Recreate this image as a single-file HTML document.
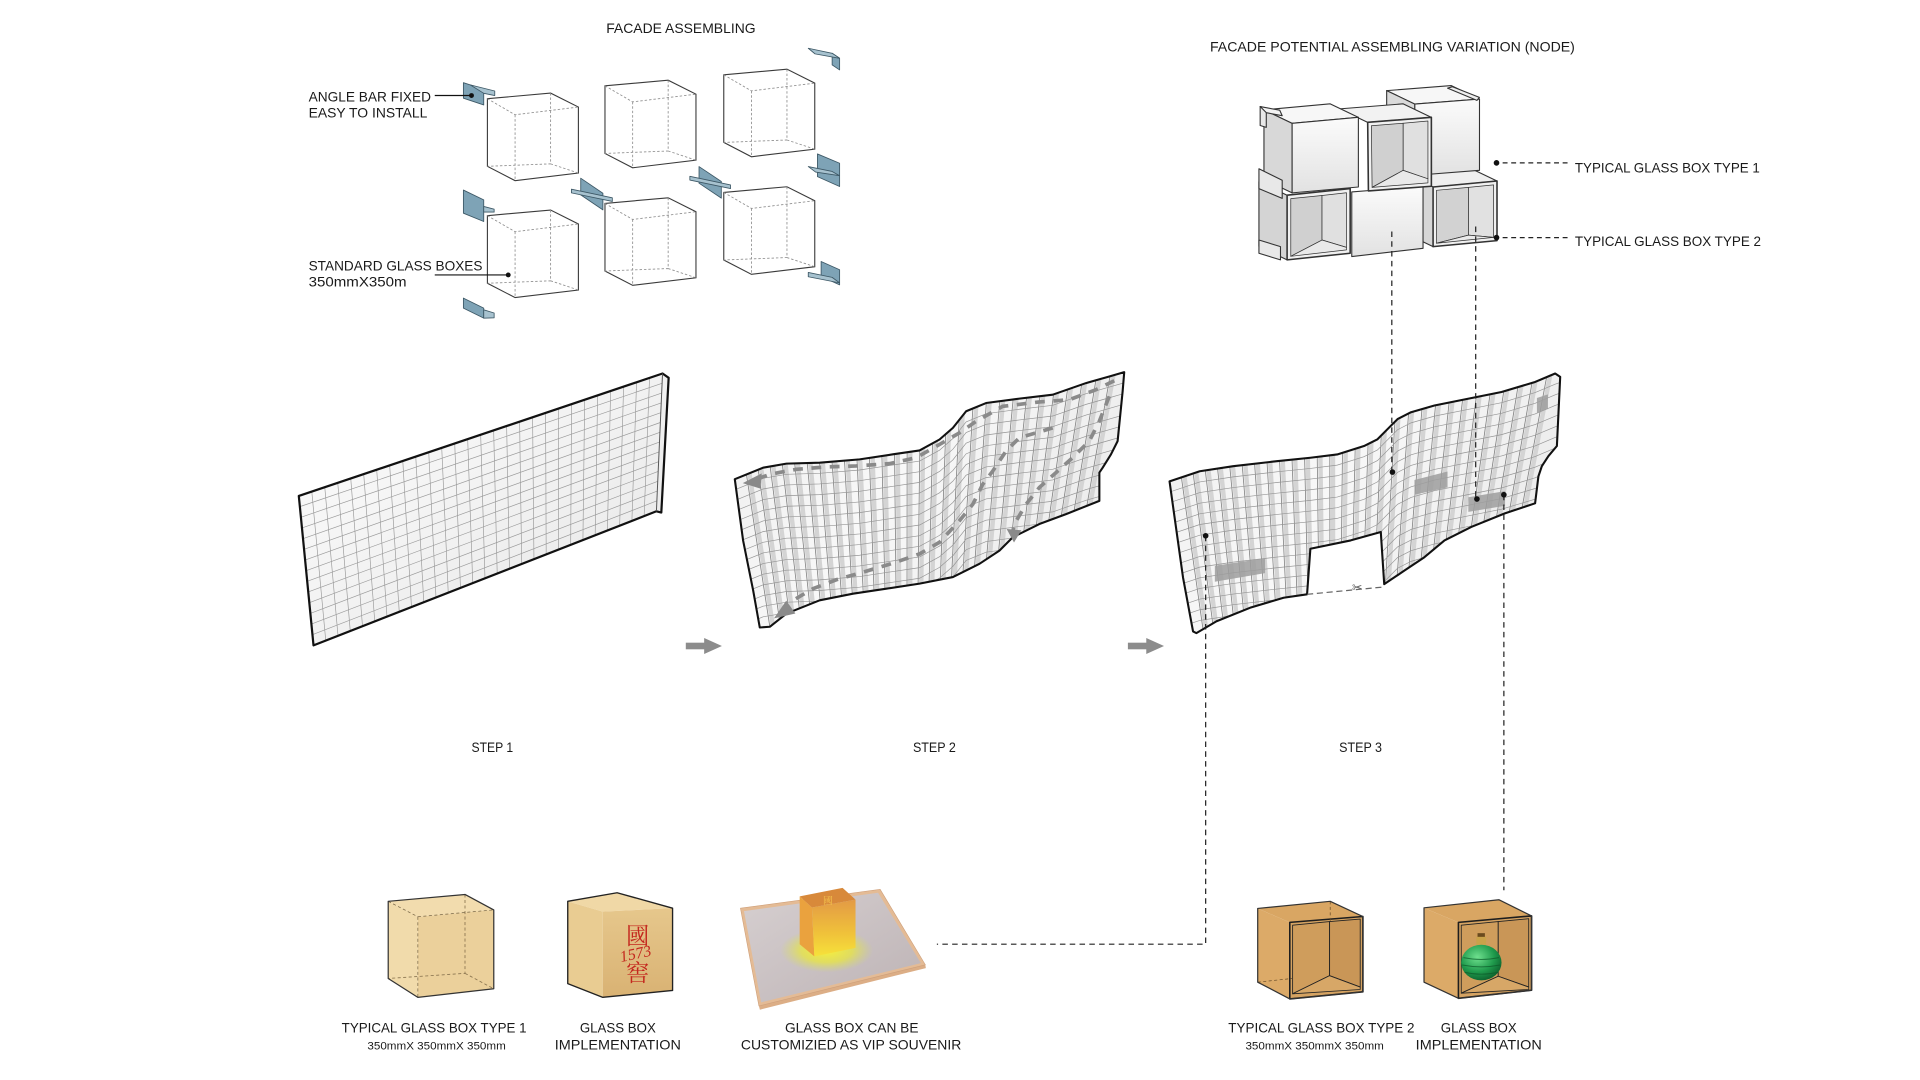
<!DOCTYPE html>
<html><head><meta charset="utf-8"><style>
html,body{margin:0;padding:0;background:#fff;}
svg{display:block;}
text{font-family:"Liberation Sans","Noto Sans CJK SC",sans-serif;fill:#1a1a1a;}
</style></head><body>
<svg width="1920" height="1080" viewBox="0 0 1567.8 881.9" preserveAspectRatio="none" xmlns="http://www.w3.org/2000/svg">
<defs>
<linearGradient id="w1" x1="0" y1="0" x2="1" y2="1"><stop offset="0" stop-color="#fdfdfd"/><stop offset="1" stop-color="#e6e6e6"/></linearGradient>
<linearGradient id="w2" x1="0" y1="0" x2="1" y2="0.4"><stop offset="0" stop-color="#efefef"/><stop offset="0.5" stop-color="#f8f8f8"/><stop offset="1" stop-color="#ececec"/></linearGradient>
<linearGradient id="nf" x1="0" y1="0" x2="0" y2="1"><stop offset="0" stop-color="#fbfbfb"/><stop offset="1" stop-color="#e2e2e2"/></linearGradient>
<linearGradient id="tanF" x1="0" y1="0" x2="0" y2="1"><stop offset="0" stop-color="#e6c78c"/><stop offset="1" stop-color="#d9b273"/></linearGradient>
<linearGradient id="orF" x1="0" y1="0" x2="0" y2="1"><stop offset="0" stop-color="#e39a45"/><stop offset="0.6" stop-color="#f0c23a"/><stop offset="1" stop-color="#f6e23a"/></linearGradient>
<linearGradient id="tray" x1="0" y1="0" x2="1" y2="1"><stop offset="0" stop-color="#d6cfd0"/><stop offset="1" stop-color="#bdb3b5"/></linearGradient>
<radialGradient id="glow" cx="0.5" cy="0.5" r="0.5"><stop offset="0" stop-color="#f8f03a" stop-opacity="1"/><stop offset="0.55" stop-color="#e8e640" stop-opacity="0.75"/><stop offset="1" stop-color="#d8e060" stop-opacity="0"/></radialGradient>
<radialGradient id="bottle" cx="0.4" cy="0.35" r="0.7"><stop offset="0" stop-color="#6fe08e"/><stop offset="0.6" stop-color="#1f9a4c"/><stop offset="1" stop-color="#0c5e2c"/></radialGradient>
<clipPath id="c1"><polygon points="244,405 541,305 536,417.5 256,527"/></clipPath>
<clipPath id="c2"><polygon points="600,391.3 623.1,381.9 642.2,378.6 669.3,377.8 701.9,375.1 729.1,371 750.9,367.8 767.2,358.9 778.1,349.4 788.9,335.8 805.2,329.1 832.4,325.5 859.6,322.3 886.8,312.8 905.8,307.4 918,303.9 916.7,319.6 912.6,360.2 907.2,371 900.4,381.9 897.7,385.9 897.7,409 870.5,419.8 848.7,427.9 827,438.7 816.1,449.6 799.8,460.4 778.1,471.2 750.9,476.6 723.7,480.7 696.5,484.8 669.3,490.2 642.2,501 628.6,511.8 620.4,512.4 615,482.1 606.8,441.4"/></clipPath>
<clipPath id="c3"><polygon points="955,393.1 979.7,384.8 1007,380.7 1042.6,376.6 1070,373.8 1091.9,371.1 1113.8,364.2 1124.8,358.7 1135.7,347.7 1141.2,342.2 1152.2,336.6 1171.3,331.1 1198.7,325.6 1226.1,320.1 1253.5,311.9 1269.9,305 1274,307.7 1271.3,364.2 1264.4,372.4 1259,380.7 1256.2,389 1253.5,411 1228.8,419.2 1201.4,430.3 1179.5,441.3 1163.1,455 1146.7,466 1130.3,477 1127.5,434.4 1102.9,441.3 1070,448.1 1067.3,485.3 1048.1,488.1 1020.7,496.3 993.4,507.3 976.9,517 974.2,515.6 966,471.5"/></clipPath>
<path id="t2" d="M585,397 L600,391.3 623.1,381.9 642.2,378.6 669.3,377.8 701.9,375.1 729.1,371 750.9,367.8 767.2,358.9 778.1,349.4 788.9,335.8 805.2,329.1 832.4,325.5 859.6,322.3 886.8,312.8 905.8,307.4 918,303.9 935,299" fill="none"/>
<path id="t3" d="M940,398 L955,393.1 979.7,384.8 1007,380.7 1042.6,376.6 1070,373.8 1091.9,371.1 1113.8,364.2 1124.8,358.7 1135.7,347.7 1141.2,342.2 1152.2,336.6 1171.3,331.1 1198.7,325.6 1226.1,320.1 1253.5,311.9 1269.9,305 1290,298" fill="none"/>
<g id="cube">
<polygon points="0,4.6 51.6,0 74.3,11.4 74.3,65.3 22.6,71.5 0,59.8" fill="#fff" stroke="#3a3a3a" stroke-width="0.9"/>
<path d="M0,4.6 L22.6,17.7 L74.3,11.4 M22.6,17.7 L22.6,71.5 M51.6,0 L51.6,57.8 L0,59.8 M51.6,57.8 L74.3,65.3" fill="none" stroke="#8f8f8f" stroke-width="0.7" stroke-dasharray="2 1.6"/>
</g>
</defs>

<!-- ============ TOP LEFT: FACADE ASSEMBLING ============ -->
<text x="495" y="27" font-size="11.5" textLength="122" lengthAdjust="spacingAndGlyphs">FACADE ASSEMBLING</text>

<use href="#cube" x="398" y="76"/>
<use href="#cube" x="494" y="65.5"/>
<use href="#cube" x="591" y="56.5"/>
<use href="#cube" x="398" y="171.5"/>
<use href="#cube" x="494" y="161.5"/>
<use href="#cube" x="591" y="152.5"/>

<g stroke="#3d5866" stroke-width="0.7" stroke-linejoin="round">
<polygon points="378.4,67.5 395,72.9 395,85.7 378.4,80.2" fill="#7ea3b6"/>
<polygon points="384,69.3 404,74.3 404,78 395,76.2" fill="#a7c2cf"/>
<polygon points="378.4,155.2 395,163.2 395,180.9 378.4,174.1" fill="#7ea3b6"/>
<polygon points="395,168.6 403.5,170.8 403.5,173.2 395,173.2" fill="#a7c2cf"/>
<polygon points="378.4,243.4 395,251.6 395,259.8 378.4,251.6" fill="#7ea3b6"/>
<polygon points="395,253 403.5,255.6 403.5,259.5 395,259.8" fill="#a7c2cf"/>
<polygon points="474.2,145.5 492.3,157.8 492.3,171.4 474.2,159.1" fill="#7ea3b6"/>
<polygon points="466.6,154.5 500,161.5 500,164.5 466.6,157.5" fill="#a7c2cf"/>
<polygon points="570.8,136 589,148.2 589,161.8 570.8,149.6" fill="#7ea3b6"/>
<polygon points="563.3,144 596.5,151 596.5,154 563.3,147" fill="#a7c2cf"/>
<polygon points="679.5,43.5 685.6,47.6 685.6,57.1 679.5,53" fill="#7ea3b6"/>
<polygon points="660,39.4 679.5,43.5 685.6,47.6 665.5,44" fill="#a7c2cf"/>
<polygon points="667.5,125.7 685.6,133.3 685.6,152.3 667.5,144.2" fill="#7ea3b6"/>
<polygon points="660,136 679.5,140 685.6,143.5 666,140.5" fill="#a7c2cf"/>
<polygon points="670.5,213.5 685.6,220.3 685.6,232.6 670.5,225.8" fill="#7ea3b6"/>
<polygon points="660,222.5 679.5,226.5 685.6,231 660,226" fill="#a7c2cf"/>
</g>

<text x="252" y="83" font-size="11.5" textLength="100" lengthAdjust="spacingAndGlyphs">ANGLE BAR FIXED</text>
<text x="252" y="96" font-size="11.5" textLength="97" lengthAdjust="spacingAndGlyphs">EASY TO INSTALL</text>
<line x1="355" y1="78" x2="385" y2="78" stroke="#111" stroke-width="1"/>
<circle cx="385" cy="78" r="2" fill="#111"/>
<text x="252" y="221" font-size="11.5" textLength="142" lengthAdjust="spacingAndGlyphs">STANDARD GLASS BOXES</text>
<text x="252" y="234" font-size="11.5" textLength="80" lengthAdjust="spacingAndGlyphs">350mmX350m</text>
<line x1="355" y1="224.5" x2="415" y2="224.5" stroke="#111" stroke-width="1"/>
<circle cx="415" cy="224.5" r="2" fill="#111"/>

<!-- ============ TOP RIGHT: NODE ============ -->
<text x="988" y="42" font-size="11.5" textLength="298" lengthAdjust="spacingAndGlyphs">FACADE POTENTIAL ASSEMBLING VARIATION (NODE)</text>

<g stroke="#333" stroke-width="0.9" stroke-linejoin="round">
<polygon points="1170.2,152.7 1222.4,147.8 1199.4,136.8 1147.2,141.7" fill="#efefef"/>
<polygon points="1170.2,152.7 1147.2,141.7 1147.2,190.4 1170.2,201.4" fill="#d6d6d6"/>
<polygon points="1170.2,152.7 1222.4,147.8 1222.4,196.5 1170.2,201.4" fill="#f0f0f0" stroke-width="1.3"/>
<polygon points="1173,155.4 1199.1,153 1199.1,192 1173,198.6" fill="#d2d2d2" stroke-width="0.6"/>
<polygon points="1199.1,153 1219.6,151 1219.6,193.8 1199.1,192" fill="#e1e1e1" stroke-width="0.6"/>
<polygon points="1173,198.6 1199.1,192 1219.6,193.8" fill="#eaeaea" stroke-width="0.6"/>
<polygon points="1103.8,156.7 1162,152.1 1162,202.8 1103.8,209.5" fill="url(#nf)"/>
<polygon points="1051,159.4 1028,148.4 1028,201.2 1051,212.2" fill="#d4d4d4"/>
<polygon points="1051,159.4 1102.5,154 1102.5,206.8 1051,212.2" fill="#f0f0f0" stroke-width="1.3"/>
<polygon points="1054,162.2 1079.5,159.6 1079.5,196 1054,209.3" fill="#d0d0d0" stroke-width="0.6"/>
<polygon points="1079.5,159.6 1099.5,157.4 1099.5,202 1079.5,196" fill="#e0e0e0" stroke-width="0.6"/>
<polygon points="1054,209.3 1079.5,196 1099.5,202 1099.5,204" fill="#e9e9e9" stroke-width="0.6"/>
<polygon points="1155.3,85 1208.1,80.9 1185.1,69.9 1132.3,74" fill="#f7f7f7"/>
<polygon points="1155.3,85 1132.3,74 1132.3,132.2 1155.3,143.2" fill="#dadada"/>
<polygon points="1155.3,85 1208.1,80.9 1208.1,139.1 1155.3,143.2" fill="url(#nf)"/>
<polygon points="1116.8,99.9 1168.8,95.8 1145.8,84.8 1093.8,88.9" fill="#f2f2f2"/>
<polygon points="1116.8,99.9 1168.8,95.8 1168.8,152.1 1117.4,155.9" fill="#f0f0f0" stroke-width="1.3"/>
<polygon points="1119.8,102.7 1145.8,100.6 1145.8,139.1 1120.4,153" fill="#d0d0d0" stroke-width="0.6"/>
<polygon points="1145.8,100.6 1166,98.8 1166,146 1145.8,139.1" fill="#e0e0e0" stroke-width="0.6"/>
<polygon points="1120.4,153 1145.8,139.1 1166,146 1166,149.3" fill="#e9e9e9" stroke-width="0.6"/>
<polygon points="1055.1,100.7 1109.2,95.8 1086.2,84.8 1032.1,89.7" fill="#f7f7f7"/>
<polygon points="1055.1,100.7 1032.1,89.7 1032.1,146.5 1055.1,157.5" fill="#d8d8d8"/>
<polygon points="1055.1,100.7 1109.2,95.8 1109.2,152.7 1055.1,157.5" fill="url(#nf)"/>
<polygon points="1029,87 1034,88.5 1034,104 1029,102.5" fill="#e8e8e8"/>
<polygon points="1029,87 1045,90 1047,94.5 1034,92" fill="#f2f2f2"/>
<polygon points="1028,137.8 1047,147.2 1047,162 1028,154" fill="#e8e8e8"/>
<polygon points="1028,196 1045.6,201.4 1045.6,212.2 1028,206.8" fill="#e8e8e8"/>
<polygon points="1182,72 1186,70.8 1208,79.5 1206,82" fill="#eee"/>
</g>

<circle cx="1222" cy="133" r="2.3" fill="#111"/>
<line x1="1227" y1="133" x2="1280" y2="133" stroke="#222" stroke-width="1" stroke-dasharray="4 3"/>
<text x="1286" y="141" font-size="11.5" textLength="151" lengthAdjust="spacingAndGlyphs">TYPICAL GLASS BOX TYPE 1</text>
<circle cx="1222" cy="194" r="2.3" fill="#111"/>
<line x1="1227" y1="194" x2="1280" y2="194" stroke="#222" stroke-width="1" stroke-dasharray="4 3"/>
<text x="1286" y="201" font-size="11.5" textLength="152" lengthAdjust="spacingAndGlyphs">TYPICAL GLASS BOX TYPE 2</text>

<!-- ============ STEP 1 WALL ============ -->
<polygon points="244,405 541,305 546,308.5 540,418.5 536,417.5 256,527" fill="url(#w1)"/>
<g clip-path="url(#c1)" stroke="#9a9a9a" stroke-width="0.55" fill="none">
<path d="M254.6,401.4L266,523.1M265.2,397.9L276,519.1M275.8,394.3L286,515.2M286.4,390.7L296,511.3M297,387.1L306,507.4M307.6,383.6L316,503.4M318.2,380L326,499.5M328.9,376.4L336,495.6M339.5,372.9L346,491.6M350.1,369.3L356,487.7M360.7,365.7L366,483.8M371.3,362.1L376,479.9M381.9,358.6L386,475.9M392.5,355L396,472M403.1,351.4L406,468.1M413.7,347.9L416,464.1M424.3,344.3L426,460.2M434.9,340.7L436,456.3M445.5,337.1L446,452.3M456.1,333.6L456,448.4M466.7,330L466,444.5M477.4,326.4L476,440.6M488,322.9L486,436.6M498.6,319.3L496,432.7M509.2,315.7L506,428.8M519.8,312.1L516,424.8M530.4,308.6L526,420.9"/>
<path d="M244.9,413.7L540.6,313M245.7,422.4L540.3,321M246.6,431.1L539.9,329M247.4,439.9L539.6,337M248.3,448.6L539.2,345M249.1,457.3L538.9,353M250,466L538.5,361M250.9,474.7L538.1,369M251.7,483.4L537.8,377M252.6,492.1L537.4,385M253.4,500.9L537.1,393M254.3,509.6L536.7,401M255.1,518.3L536.4,409"/>
</g>
<polygon points="244,405 541,305 546,308.5 540,418.5 536,417.5 256,527" fill="none" stroke="#111" stroke-width="1.8" stroke-linejoin="round"/>
<line x1="541" y1="305" x2="536" y2="417.5" stroke="#555" stroke-width="0.8"/>

<!-- ============ STEP 2 WALL ============ -->
<polygon points="600,391.3 623.1,381.9 642.2,378.6 669.3,377.8 701.9,375.1 729.1,371 750.9,367.8 767.2,358.9 778.1,349.4 788.9,335.8 805.2,329.1 832.4,325.5 859.6,322.3 886.8,312.8 905.8,307.4 918,303.9 916.7,319.6 912.6,360.2 907.2,371 900.4,381.9 897.7,385.9 897.7,409 870.5,419.8 848.7,427.9 827,438.7 816.1,449.6 799.8,460.4 778.1,471.2 750.9,476.6 723.7,480.7 696.5,484.8 669.3,490.2 642.2,501 628.6,511.8 620.4,512.4 615,482.1 606.8,441.4" fill="url(#w2)"/>
<g clip-path="url(#c2)" fill="none">
<path transform="translate(2.6,0)" stroke="#d4d4d4" stroke-width="3.6" d="M596.1,300L629.1,515M607.3,300L637.7,515M618.4,300L646.2,515M629.5,300L654.8,515M640.6,300L663.4,515M651.8,300L672,515M662.9,300L680.5,515M674,300L689.1,515M685.1,300L697.7,515M696.3,300L706.3,515M707.4,300L714.8,515M718.5,300L723.4,515M729.7,300L732,515M740.8,300L740.6,515M751.9,300L749.2,515M763,300L757.7,515M774.2,300L766.3,515M785.3,300L774.9,515M796.4,300L783.5,515M807.5,300L792,515M818.7,300L800.6,515M829.8,300L809.2,515M840.9,300L817.8,515M852,300L826.3,515M863.2,300L834.9,515M874.3,300L843.5,515M885.4,300L852.1,515M896.6,300L860.7,515M907.7,300L869.2,515"/>
<path stroke="#808080" stroke-width="0.65" d="M596.1,300L629.1,515M607.3,300L637.7,515M618.4,300L646.2,515M629.5,300L654.8,515M640.6,300L663.4,515M651.8,300L672,515M662.9,300L680.5,515M674,300L689.1,515M685.1,300L697.7,515M696.3,300L706.3,515M707.4,300L714.8,515M718.5,300L723.4,515M729.7,300L732,515M740.8,300L740.6,515M751.9,300L749.2,515M763,300L757.7,515M774.2,300L766.3,515M785.3,300L774.9,515M796.4,300L783.5,515M807.5,300L792,515M818.7,300L800.6,515M829.8,300L809.2,515M840.9,300L817.8,515M852,300L826.3,515M863.2,300L834.9,515M874.3,300L843.5,515M885.4,300L852.1,515M896.6,300L860.7,515M907.7,300L869.2,515"/>
<g stroke="#959595" stroke-width="0.55">
<use href="#t2" transform="translate(0,8.7)"/><use href="#t2" transform="translate(0,17.4)"/><use href="#t2" transform="translate(0,26.1)"/><use href="#t2" transform="translate(0,34.8)"/><use href="#t2" transform="translate(0,43.5)"/><use href="#t2" transform="translate(0,52.2)"/><use href="#t2" transform="translate(0,60.9)"/><use href="#t2" transform="translate(0,69.6)"/><use href="#t2" transform="translate(0,78.3)"/><use href="#t2" transform="translate(0,87)"/><use href="#t2" transform="translate(0,95.7)"/><use href="#t2" transform="translate(0,104.4)"/><use href="#t2" transform="translate(0,113.1)"/><use href="#t2" transform="translate(0,121.8)"/>
</g>
</g>
<polygon points="600,391.3 623.1,381.9 642.2,378.6 669.3,377.8 701.9,375.1 729.1,371 750.9,367.8 767.2,358.9 778.1,349.4 788.9,335.8 805.2,329.1 832.4,325.5 859.6,322.3 886.8,312.8 905.8,307.4 918,303.9 916.7,319.6 912.6,360.2 907.2,371 900.4,381.9 897.7,385.9 897.7,409 870.5,419.8 848.7,427.9 827,438.7 816.1,449.6 799.8,460.4 778.1,471.2 750.9,476.6 723.7,480.7 696.5,484.8 669.3,490.2 642.2,501 628.6,511.8 620.4,512.4 615,482.1 606.8,441.4" fill="none" stroke="#111" stroke-width="1.7" stroke-linejoin="round"/>
<g fill="none" stroke="#8a8a8a" stroke-width="3" stroke-dasharray="8 7">
<polyline points="909.9,310.9 894.9,318.2 873.2,326.4 848.7,328.2 818.8,331.8 797.1,344 783.5,353.4 767.2,362.9 748.2,373.7 726.4,378.6 699.2,380.5 674.8,381.3 650.3,383.2 628.6,387.3 620,390.5"/>
<polyline points="905.8,323.6 897.7,343.9 889.5,360.2 875.9,373.7 862.3,385.9 848.7,398.1 837.9,411.7 828.3,427.9 827,434"/>
<polyline points="859.6,349.4 832.4,357.5 821.5,368.3 810.7,384.6 802.5,395.4 794.4,411.7 783.5,425.2 767.2,442.8 750.9,452.3 729.1,459.9 704.7,467.2 682.9,473.4 663.9,480.7 647.6,490.2"/>
</g>
<g fill="#8a8a8a">
<polygon points="606.5,394.5 622,386.5 621,399"/>
<polygon points="828,443 822,432 834,433"/>
<polygon points="632,505 642,490.5 649.5,501"/>
</g>

<!-- ============ STEP 3 WALL ============ -->
<polygon points="955,393.1 979.7,384.8 1007,380.7 1042.6,376.6 1070,373.8 1091.9,371.1 1113.8,364.2 1124.8,358.7 1135.7,347.7 1141.2,342.2 1152.2,336.6 1171.3,331.1 1198.7,325.6 1226.1,320.1 1253.5,311.9 1269.9,305 1274,307.7 1271.3,364.2 1264.4,372.4 1259,380.7 1256.2,389 1253.5,411 1228.8,419.2 1201.4,430.3 1179.5,441.3 1163.1,455 1146.7,466 1130.3,477 1127.5,434.4 1102.9,441.3 1070,448.1 1067.3,485.3 1048.1,488.1 1020.7,496.3 993.4,507.3 976.9,517 974.2,515.6 966,471.5" fill="url(#w2)"/>
<g clip-path="url(#c3)" fill="none">
<path transform="translate(2.6,0)" stroke="#d4d4d4" stroke-width="3.6" d="M951.9,300L983.2,520M963,300L991.7,520M974.2,300L1000.3,520M985.4,300L1008.9,520M996.5,300L1017.4,520M1007.7,300L1026,520M1018.8,300L1034.6,520M1030,300L1043.1,520M1041.2,300L1051.7,520M1052.3,300L1060.3,520M1063.5,300L1068.8,520M1074.7,300L1077.4,520M1085.8,300L1086,520M1097,300L1094.5,520M1108.1,300L1103.1,520M1119.3,300L1111.7,520M1130.5,300L1120.2,520M1141.6,300L1128.8,520M1152.8,300L1137.4,520M1163.9,300L1145.9,520M1175.1,300L1154.5,520M1186.3,300L1163.1,520M1197.4,300L1171.6,520M1208.6,300L1180.2,520M1219.8,300L1188.8,520M1230.9,300L1197.3,520M1242.1,300L1205.9,520M1253.2,300L1214.5,520M1264.4,300L1223,520"/>
<path stroke="#808080" stroke-width="0.65" d="M951.9,300L983.2,520M963,300L991.7,520M974.2,300L1000.3,520M985.4,300L1008.9,520M996.5,300L1017.4,520M1007.7,300L1026,520M1018.8,300L1034.6,520M1030,300L1043.1,520M1041.2,300L1051.7,520M1052.3,300L1060.3,520M1063.5,300L1068.8,520M1074.7,300L1077.4,520M1085.8,300L1086,520M1097,300L1094.5,520M1108.1,300L1103.1,520M1119.3,300L1111.7,520M1130.5,300L1120.2,520M1141.6,300L1128.8,520M1152.8,300L1137.4,520M1163.9,300L1145.9,520M1175.1,300L1154.5,520M1186.3,300L1163.1,520M1197.4,300L1171.6,520M1208.6,300L1180.2,520M1219.8,300L1188.8,520M1230.9,300L1197.3,520M1242.1,300L1205.9,520M1253.2,300L1214.5,520M1264.4,300L1223,520"/>
<g stroke="#959595" stroke-width="0.55">
<use href="#t3" transform="translate(0,8.7)"/><use href="#t3" transform="translate(0,17.4)"/><use href="#t3" transform="translate(0,26.1)"/><use href="#t3" transform="translate(0,34.8)"/><use href="#t3" transform="translate(0,43.5)"/><use href="#t3" transform="translate(0,52.2)"/><use href="#t3" transform="translate(0,60.9)"/><use href="#t3" transform="translate(0,69.6)"/><use href="#t3" transform="translate(0,78.3)"/><use href="#t3" transform="translate(0,87)"/><use href="#t3" transform="translate(0,95.7)"/><use href="#t3" transform="translate(0,104.4)"/><use href="#t3" transform="translate(0,113.1)"/><use href="#t3" transform="translate(0,121.8)"/>
</g>
<g fill="#9e9e9e" fill-opacity="0.85">
<polygon points="992,462 1033,456 1033,468 992,475"/>
<polygon points="1155,392 1182,385 1182,398 1155,404"/>
<polygon points="1199,406 1229,401 1229,413 1199,418"/>
<polygon points="1255,325 1264,322 1264,334 1255,337"/>
</g>
</g>
<polygon points="955,393.1 979.7,384.8 1007,380.7 1042.6,376.6 1070,373.8 1091.9,371.1 1113.8,364.2 1124.8,358.7 1135.7,347.7 1141.2,342.2 1152.2,336.6 1171.3,331.1 1198.7,325.6 1226.1,320.1 1253.5,311.9 1269.9,305 1274,307.7 1271.3,364.2 1264.4,372.4 1259,380.7 1256.2,389 1253.5,411 1228.8,419.2 1201.4,430.3 1179.5,441.3 1163.1,455 1146.7,466 1130.3,477 1127.5,434.4 1102.9,441.3 1070,448.1 1067.3,485.3 1048.1,488.1 1020.7,496.3 993.4,507.3 976.9,517 974.2,515.6 966,471.5" fill="none" stroke="#111" stroke-width="1.7" stroke-linejoin="round"/>
<line x1="1067.3" y1="485.3" x2="1128" y2="479.5" stroke="#666" stroke-width="1" stroke-dasharray="5 3"/>
<text x="1104" y="483" font-size="10" style="font-family:'DejaVu Sans',sans-serif;fill:#555">✂</text>

<!-- connectors -->
<g fill="none" stroke="#222" stroke-width="1" stroke-dasharray="4.5 3.5">
<line x1="1136.5" y1="189" x2="1136.5" y2="385"/>
<line x1="1205" y1="185" x2="1205" y2="407"/>
<line x1="1228" y1="404" x2="1228" y2="727"/>
<polyline points="984.5,437.5 984.5,771 765,771"/>
</g>
<circle cx="1137" cy="385.5" r="2.3" fill="#111"/>
<circle cx="1206" cy="407.5" r="2.3" fill="#111"/>
<circle cx="1228" cy="404" r="2.3" fill="#111"/>
<circle cx="984.5" cy="437.5" r="2.3" fill="#111"/>

<!-- step arrows -->
<g fill="#8c8c8c">
<rect x="560" y="524.8" width="16" height="5.4"/>
<polygon points="575,521 589.5,527.5 575,534"/>
<rect x="921" y="524.8" width="16" height="5.4"/>
<polygon points="936,521 950.5,527.5 936,534"/>
</g>

<text x="402" y="614" font-size="11.5" text-anchor="middle" textLength="34" lengthAdjust="spacingAndGlyphs">STEP 1</text>
<text x="763" y="614" font-size="11.5" text-anchor="middle" textLength="35" lengthAdjust="spacingAndGlyphs">STEP 2</text>
<text x="1111" y="614" font-size="11.5" text-anchor="middle" textLength="35" lengthAdjust="spacingAndGlyphs">STEP 3</text>

<!-- ============ BOTTOM ROW ============ -->
<g stroke-linejoin="round">
<polygon points="317,736 379.7,730.4 403.2,743 341.2,748.6" fill="#f2dcae"/>
<polygon points="317,736 341.2,748.6 341.2,814.4 317,799" fill="#f1dbab"/>
<polygon points="341.2,748.6 403.2,743 403.2,807.4 341.2,814.4" fill="#ebd09b"/>
<path d="M379.7,730.4 L379.7,794.8 L317,799 M379.7,794.8 L403.2,807.4" fill="none" stroke="#8a7550" stroke-width="0.7" stroke-dasharray="2.5 2"/>
<path d="M341.2,748.6 L403.2,743 M341.2,748.6 L341.2,814.4 M317,736 L341.2,748.6" fill="none" stroke="#7a6848" stroke-width="0.6" stroke-dasharray="2.5 2"/>
<polygon points="317,736 379.7,730.4 403.2,743 403.2,807.4 341.2,814.4 317,799" fill="none" stroke="#333" stroke-width="1"/>
</g>
<g stroke-linejoin="round">
<polygon points="463.6,736 503.9,729 549.2,741.6 492.2,744.4" fill="#f0d8a6"/>
<polygon points="463.6,736 492.2,744.4 492.2,814.4 463.6,803.2" fill="#e9cc92"/>
<polygon points="492.2,744.4 549.2,741.6 549.2,808.8 492.2,814.4" fill="url(#tanF)"/>
<polygon points="463.6,736 503.9,729 549.2,741.6 549.2,808.8 492.2,814.4 463.6,803.2" fill="none" stroke="#222" stroke-width="1.1"/>
</g>
<text x="520.7" y="771" font-size="19" text-anchor="middle" style="font-family:'Noto Serif CJK SC','Noto Serif CJK TC',serif;fill:#c4281e">國</text>
<text x="519" y="783" font-size="13" text-anchor="middle" transform="rotate(-12 519 779)" style="font-family:'Liberation Serif',serif;font-style:italic;fill:#c4281e">1573</text>
<text x="520.7" y="801" font-size="19" text-anchor="middle" style="font-family:'Noto Serif CJK SC','Noto Serif CJK TC',serif;fill:#c4281e">窖</text>

<!-- box 3 VIP tray -->
<polygon points="619.7,821.4 755.6,787.8 756,790.5 620.5,824.5" fill="#dcae86"/>
<polygon points="604.6,741.6 718.7,726.2 755.6,787.8 619.7,821.4" fill="#e4bb95" stroke="#cfa07a" stroke-width="0.5"/>
<polygon points="607.5,744 717,729 752,786.5 621.5,818.5" fill="url(#tray)"/>
<ellipse cx="675" cy="776" rx="38" ry="18" fill="url(#glow)"/>
<polygon points="653,732 688,725 698.6,734.6 663,741" fill="#d8893a"/>
<polygon points="653,732 663,741 665,781 653,771" fill="#eaa23e"/>
<polygon points="663,741 698.6,734.6 698.6,774 665,781" fill="url(#orF)"/>
<text x="676" y="738" font-size="8" text-anchor="middle" style="font-family:'Noto Serif CJK SC',serif;fill:#f4c24c">國</text>

<!-- box 4 open type 2 -->
<g stroke-linejoin="round">
<polygon points="1027,741.8 1086.2,736 1112.9,748.4 1053.2,753.2" fill="#d9a663"/>
<polygon points="1027,741.8 1053.2,753.2 1053.2,815.7 1027,802" fill="#dcaa68"/>
<polygon points="1053.2,753.2 1112.9,748.4 1112.9,809.9 1053.2,815.7" fill="#d5a362" stroke="#1e1e1e" stroke-width="1.3"/>
<polygon points="1055.5,755.5 1085.7,752.5 1085.7,796.7 1055.5,811.5" fill="#cf9d5c" stroke="#222" stroke-width="0.7"/>
<polygon points="1085.7,752.5 1110.7,750.5 1110.7,806 1085.7,796.7" fill="#c99657" stroke="#222" stroke-width="0.7"/>
<polygon points="1055.5,811.5 1085.7,796.7 1110.7,806 1110.7,808" fill="#d7a767" stroke="#222" stroke-width="0.7"/>
<path d="M1086.2,736 L1086.2,752 M1027,802 L1055,799" fill="none" stroke="#6a4e2a" stroke-width="0.6" stroke-dasharray="2.5 2"/>
<polygon points="1027,741.8 1086.2,736 1112.9,748.4 1112.9,809.9 1053.2,815.7 1027,802" fill="none" stroke="#333" stroke-width="1"/>
</g>
<!-- box 5 with bottle -->
<g stroke-linejoin="round">
<polygon points="1162.8,741.3 1223.9,734.7 1250.6,747.9 1190.9,753.2" fill="#d9a663"/>
<polygon points="1162.8,741.3 1190.9,753.2 1190.9,815.2 1162.8,802" fill="#dcaa68"/>
<polygon points="1190.9,753.2 1250.6,747.9 1250.6,808.6 1190.9,815.2" fill="#d5a362" stroke="#1e1e1e" stroke-width="1.3"/>
<polygon points="1193.2,755.5 1223.4,752.5 1223.4,797.2 1193.2,811" fill="#cf9d5c" stroke="#222" stroke-width="0.7"/>
<polygon points="1223.4,752.5 1248.3,750.2 1248.3,806 1223.4,797.2" fill="#c99657" stroke="#222" stroke-width="0.7"/>
<polygon points="1193.2,811 1223.4,797.2 1248.3,806 1248.3,808" fill="#d7a767" stroke="#222" stroke-width="0.7"/>
<polygon points="1162.8,741.3 1223.9,734.7 1250.6,747.9 1250.6,808.6 1190.9,815.2 1162.8,802" fill="none" stroke="#333" stroke-width="1"/>
</g>
<rect x="1206.5" y="762" width="6" height="3.5" fill="#6a4a1e"/>
<rect x="1205.5" y="765" width="8" height="6.5" fill="#c9a24a"/>
<ellipse cx="1209.6" cy="786" rx="16.5" ry="14.5" fill="url(#bottle)"/>
<path d="M1195,782 Q1209.6,785 1224,782 M1194,788 Q1209.6,791 1225,788 M1196,794 Q1209.6,797 1223,794" fill="none" stroke="#0d5a2a" stroke-width="0.8" opacity="0.7"/>

<!-- bottom labels -->
<text x="279" y="843" font-size="11.5" textLength="151" lengthAdjust="spacingAndGlyphs">TYPICAL GLASS BOX TYPE 1</text>
<text x="300" y="857" font-size="8.8" textLength="113" lengthAdjust="spacingAndGlyphs">350mmX 350mmX 350mm</text>
<text x="473.5" y="843" font-size="11.5" textLength="62" lengthAdjust="spacingAndGlyphs">GLASS BOX</text>
<text x="453" y="857" font-size="11.5" textLength="103" lengthAdjust="spacingAndGlyphs">IMPLEMENTATION</text>
<text x="641" y="843" font-size="11.5" textLength="109" lengthAdjust="spacingAndGlyphs">GLASS BOX CAN BE</text>
<text x="605" y="857" font-size="11.5" textLength="180" lengthAdjust="spacingAndGlyphs">CUSTOMIZIED AS VIP SOUVENIR</text>
<text x="1003" y="843" font-size="11.5" textLength="152" lengthAdjust="spacingAndGlyphs">TYPICAL GLASS BOX TYPE 2</text>
<text x="1017" y="857" font-size="8.8" textLength="113" lengthAdjust="spacingAndGlyphs">350mmX 350mmX 350mm</text>
<text x="1176.5" y="843" font-size="11.5" textLength="62" lengthAdjust="spacingAndGlyphs">GLASS BOX</text>
<text x="1156" y="857" font-size="11.5" textLength="103" lengthAdjust="spacingAndGlyphs">IMPLEMENTATION</text>
</svg>
</body></html>
